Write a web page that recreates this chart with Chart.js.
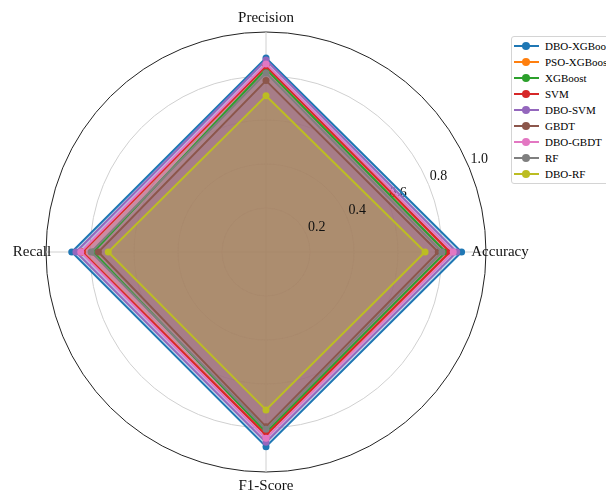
<!DOCTYPE html>
<html>
<head>
<meta charset="utf-8">
<script src="https://cdn.jsdelivr.net/npm/chart.js@4.4.1/dist/chart.umd.min.js"></script>
<style>
  html, body { margin: 0; padding: 0; background: #fff; overflow: hidden; }
  #wrap { position: relative; width: 606px; height: 492px; overflow: hidden; }
  #c { position: absolute; left: 0; top: 0; }
  #legend {
    position: absolute; left: 511px; top: 36px; width: 110px; height: 148px;
    border: 1px solid #d4d4d4; border-radius: 3px; background: #fff;
    font-family: "Liberation Serif", "Times New Roman", serif; font-size: 11px; color: #000;
    box-sizing: border-box;
  }
  .item { position: absolute; left: 0; height: 14px; line-height: 14px; white-space: nowrap; }
  .sw { position: absolute; left: 2px; top: 6px; width: 25px; height: 2px; }
  .dot { position: absolute; left: 10px; top: 3px; width: 8px; height: 8px; border-radius: 50%; }
  .txt { position: absolute; left: 33px; top: 0; }
</style>
</head>
<body>
<div id="wrap">
  <canvas id="c" width="606" height="492"></canvas>
  <div id="legend"></div>
</div>
<script>
// Axes (clockwise from top, as Chart.js draws them)
const axes = ["Precision", "Accuracy", "F1-Score", "Recall"];
const models = ["DBO-XGBoost", "PSO-XGBoost", "XGBoost", "SVM", "DBO-SVM", "GBDT", "DBO-GBDT", "RF", "DBO-RF"];
const legendNames = ["DBO-XGBoost", "PSO-XGBoost", "XGBoost", "SVM", "DBO-SVM", "GBDT", "DBO-GBDT", "RF", "DBO-RF"];
// values per model: [Precision, Accuracy, F1-Score, Recall]
const dboXgb  = [0.882, 0.889, 0.885, 0.883];
const psoXgb  = [0.845, 0.836, 0.832, 0.835];
const xgb     = [0.832, 0.817, 0.820, 0.785];
const svm     = [0.845, 0.836, 0.832, 0.835];
const dboSvm  = [0.873, 0.867, 0.865, 0.864];
const gbdt    = [0.779, 0.783, 0.794, 0.762];
const dboGbdt = [0.855, 0.851, 0.847, 0.842];
const rf      = [0.814, 0.800, 0.806, 0.795];
const dboRf   = [0.710, 0.723, 0.718, 0.717];
const seriesValues = [dboXgb, psoXgb, xgb, svm, dboSvm, gbdt, dboGbdt, rf, dboRf];
const colors = ["#1f77b4", "#ff7f0e", "#2ca02c", "#d62728", "#9467bd", "#8c564b", "#e377c2", "#7f7f7f", "#bcbd22"];
const tickValues = [0.2, 0.4, 0.6, 0.8, 1.0];
const tickLabels = ["0.2", "0.4", "0.6", "0.8", "1.0"];

function hexA(hex, a) {
  const n = parseInt(hex.slice(1), 16);
  return `rgba(${(n >> 16) & 255},${(n >> 8) & 255},${n & 255},${a})`;
}

const SERIF = '"Liberation Serif", "Times New Roman", serif';

const customLabels = {
  id: 'customLabels',
  beforeDatasetsDraw(chart) {
    const s = chart.scales.r;
    const ctx = chart.ctx;
    ctx.save();
    ctx.font = '14px ' + SERIF;
    ctx.fillStyle = '#111';
    ctx.textAlign = 'center';
    ctx.textBaseline = 'middle';
    const ang = 22.5 * Math.PI / 180;
    tickValues.forEach((v, i) => {
      const d = s.getDistanceFromCenterForValue(v);
      const x = s.xCenter + d * Math.cos(ang) + 10;
      const y = s.yCenter - d * Math.sin(ang) - 8;
      ctx.fillText(tickLabels[i], x, y);
    });
    ctx.restore();
  },
  afterDraw(chart) {
    const s = chart.scales.r;
    const ctx = chart.ctx;
    ctx.save();
    ctx.font = '15px ' + SERIF;
    ctx.fillStyle = '#111';
    ctx.textAlign = 'center';
    ctx.textBaseline = 'middle';
    const dist = s.drawingArea + 14;
    axes.forEach((lab, i) => {
      const p = s.getPointPosition(i, dist);
      ctx.fillText(lab, p.x, p.y);
    });
    ctx.restore();
  }
};

new Chart(document.getElementById('c'), {
  type: 'radar',
  data: {
    labels: axes,
    datasets: models.map((m, i) => ({
      label: m,
      data: seriesValues[i],
      borderColor: colors[i],
      backgroundColor: hexA(colors[i], 0.25),
      pointBackgroundColor: colors[i],
      pointBorderColor: colors[i],
      pointRadius: 3.5,
      pointBorderWidth: 0,
      borderWidth: 2,
      fill: true,
      order: models.length - 1 - i
    }))
  },
  options: {
    responsive: false,
    animation: false,
    layout: { padding: { left: 46, right: 120, top: 32, bottom: 20 } },
    plugins: {
      legend: { display: false },
      tooltip: { enabled: false },
      filler: { drawTime: 'beforeDatasetsDraw' }
    },
    elements: { line: { tension: 0 } },
    scales: {
      r: {
        min: 0, max: 1,
        ticks: { display: false, stepSize: 0.2 },
        pointLabels: { display: false },
        grid: {
          color: (c) => (c.tick && c.tick.value >= 1 ? '#222' : '#d0d0d0'),
          lineWidth: 1,
          circular: true
        },
        angleLines: { color: '#d0d0d0', lineWidth: 1 }
      }
    }
  },
  plugins: [customLabels]
});

// HTML legend
const lg = document.getElementById('legend');
legendNames.forEach((name, i) => {
  const it = document.createElement('div');
  it.className = 'item';
  it.style.top = (2 + i * 16) + 'px';
  it.innerHTML = `<div class="sw" style="background:${colors[i]}"></div><div class="dot" style="background:${colors[i]}"></div><div class="txt">${name}</div>`;
  lg.appendChild(it);
});
</script>
</body>
</html>
